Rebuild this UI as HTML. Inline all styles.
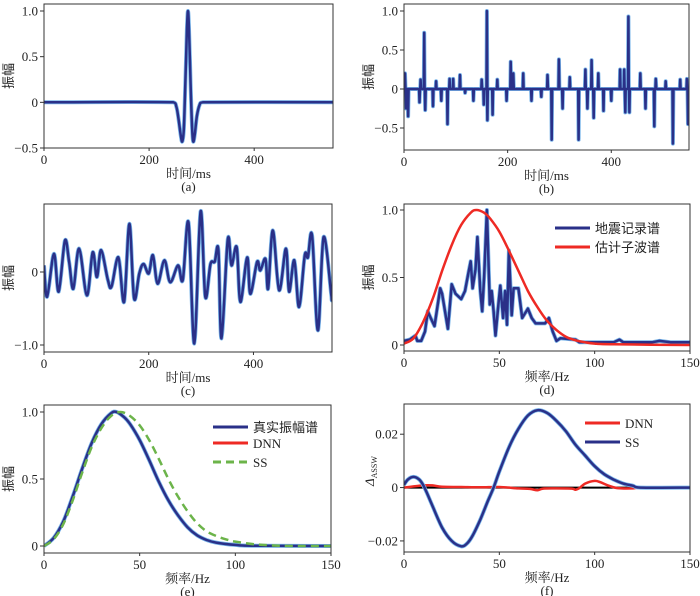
<!DOCTYPE html>
<html><head><meta charset="utf-8"><style>
html,body{margin:0;padding:0;background:#fff;}
svg{display:block;}
.num{font-family:"Liberation Serif",serif;font-size:13px;fill:#222;}
.xl{font-family:"Liberation Serif","Noto Serif CJK SC",serif;font-size:13px;fill:#222;}
.yl{font-family:"Noto Sans CJK SC",sans-serif;font-size:13px;fill:#222;}
.leg{font-family:"Liberation Serif","Noto Sans CJK SC",serif;font-size:13px;fill:#222;}
</style></head><body>
<svg id="fig" xmlns="http://www.w3.org/2000/svg" width="700" height="596" viewBox="0 0 700 596"></svg>
<script>
// (a) wavelet
const aT=[0,246,252,256,260,263,266,269,272,274,276,279,282,284,287,291,296,302,550];
const aV=[0,0,-0.05,-0.18,-0.35,-0.43,-0.3,0.2,0.8,1.0,0.8,0.2,-0.3,-0.43,-0.35,-0.15,-0.03,0,0];
// (b) reflectivity spikes
const bT=[2,4,8,30,32,39,41,56,62,72,84,88,95,108,118,134,150,154,160,161,171,180,198,206,211,230,246,265,277,285,299,306,320,337,350,354,362,366,375,385,400,417,425,427,433,435,456,466,483,486,505,519,533,546,548];
const bV=[0.2,-0.25,-0.35,-0.17,0.12,0.72,-0.27,-0.22,0.1,-0.15,-0.45,0.13,0.13,0.18,-0.05,-0.15,0.12,-0.2,1.0,-0.4,-0.33,0.12,-0.15,0.35,0.2,0.2,-0.15,-0.1,0.18,-0.65,0.38,-0.25,0.15,-0.65,0.25,-0.25,0.37,-0.37,0.2,-0.28,-0.15,0.25,0.25,-0.3,0.93,-0.3,0.2,-0.25,-0.48,0.13,0.1,-0.7,0.12,0.13,-0.45];
// (c) seismic trace
const cT=[0,6,19,28,40,48,56,67,82,93,101,109,122,129,142,153,163,172,182,190,200,208,217,230,241,256,265,276,287,299,308,318,326,333,339,351,358,368,375,388,394,407,413,423,428,437,449,462,468,478,487,498,504,512,523,534,549,550];
const cV=[0.09,-0.34,0.25,-0.27,0.43,0.14,-0.23,0.32,-0.32,0.27,-0.07,0.3,-0.11,-0.2,0.2,-0.41,0.66,-0.36,-0.02,0.11,-0.02,0.23,-0.16,0.16,-0.14,0.09,-0.11,0.68,-0.98,0.83,-0.34,0.11,0.14,0.3,-0.91,0.45,0.09,0.34,-0.41,0.2,-0.3,0.14,0.02,0.18,-0.23,0.57,-0.25,0.32,-0.27,0.16,-0.48,0.23,0.2,0.5,-0.8,0.48,-0.34,-0.3];
// (d) spectra
const dRecF=[0,3,6,7,9,11,12.5,14,16,19,20,23,25,27,30,32,34,35,36,37.5,38.5,40,41,42,43.5,45,46,47,48,49.5,50.5,52,53,54,55,56.5,57.5,60,62,65,67,69,74,76,78,80,82,90,92,100,110,113,115,130,134,140,150];
const dRecV=[0.03,0.04,0.07,0.03,0.03,0.1,0.25,0.2,0.14,0.42,0.38,0.12,0.45,0.38,0.34,0.4,0.55,0.62,0.42,0.56,0.8,0.4,0.25,0.5,1.0,0.3,0.4,0.25,0.07,0.3,0.44,0.2,0.4,0.15,0.7,0.22,0.42,0.42,0.2,0.27,0.2,0.16,0.16,0.2,0.1,0.03,0.05,0.04,0.02,0.02,0.02,0.04,0.02,0.02,0.03,0.02,0.02];
const dEstF=[0,5,10,15,20,25,30,35,38,42,45,50,55,60,65,70,75,80,85,90,95,100,110,150];
const dEstV=[0.01,0.05,0.17,0.34,0.55,0.74,0.89,0.98,1.0,0.98,0.94,0.84,0.70,0.55,0.40,0.28,0.18,0.11,0.06,0.035,0.02,0.01,0.005,0];
// (e) amplitude spectra
const eF=[0,5,10,15,20,25,30,35,38,42,45,50,55,60,65,70,75,80,85,90,100,110,150];
const eTrue=[0,0.06,0.18,0.37,0.58,0.77,0.91,0.99,1.0,0.96,0.91,0.79,0.64,0.48,0.34,0.23,0.14,0.08,0.045,0.025,0.008,0.002,0];
const eDnn=[0,0.06,0.18,0.37,0.58,0.77,0.91,0.99,1.0,0.96,0.91,0.79,0.64,0.48,0.34,0.23,0.14,0.08,0.047,0.028,0.012,0.003,0];
const eSsF=[0,5,10,15,20,25,30,35,40,45,50,55,60,65,70,75,80,85,90,95,100,110,120,130,150];
const eSs=[0,0.05,0.16,0.34,0.55,0.74,0.88,0.97,1.0,0.97,0.9,0.79,0.65,0.5,0.37,0.26,0.17,0.11,0.075,0.05,0.033,0.013,0.004,0,0];
// (f) errors
const fSsF=[0,2,5,8,10,12,15,20,25,30,33,36,40,44,47,50,55,60,65,70,75,80,85,90,95,100,105,110,115,120,124,150];
const fSs=[0.001,0.003,0.004,0.003,0.001,-0.002,-0.007,-0.015,-0.02,-0.022,-0.021,-0.018,-0.012,-0.005,0,0.006,0.015,0.022,0.027,0.029,0.028,0.025,0.021,0.016,0.012,0.008,0.005,0.003,0.0015,0.0007,0,0];
const fDnnF=[0,10,15,20,30,40,50,60,66,70,73,80,88,90,92,95,100,103,107,112,120,125,150];
const fDnn=[0,0.0008,0.0008,0.0003,0.0002,0.0001,0.0002,-0.0003,-0.0005,-0.001,-0.0004,-0.0003,-0.0004,-0.0008,-0.0002,0.0015,0.0025,0.002,0.0008,-0.0002,-0.0003,0,0];

const NS='http://www.w3.org/2000/svg';
const svg=document.getElementById('fig');
function el(tag,attrs,parent){const e=document.createElementNS(NS,tag);for(const k in attrs)e.setAttribute(k,attrs[k]);(parent||svg).appendChild(e);return e;}
const NAVY='#2a3088', HALO='#7ab6ea', RED='#ee2a24', GREEN='#6cb44a';

function panel(id,box,xd,yd,xt,yt,xlabel,caption,ylab){
  const g=el('g',{});
  
  
  const sx=v=>box.x0+(v-xd[0])/(xd[1]-xd[0])*(box.x1-box.x0);
  const sy=v=>box.y1-(v-yd[0])/(yd[1]-yd[0])*(box.y1-box.y0);
  const cp=el('clipPath',{id:'clip'+id},g);
  el('rect',{x:box.x0,y:box.y0,width:box.x1-box.x0,height:box.y1-box.y0},cp);
  const plot=el('g',{'clip-path':'url(#clip'+id+')'},g);
  const fr=el('rect',{x:box.x0,y:box.y0,width:box.x1-box.x0,height:box.y1-box.y0,fill:'none',stroke:'#333','stroke-width':1},g);
  
  
  xt.vals.forEach((v,i)=>{
    const x=sx(v);
    el('line',{x1:x,x2:x,y1:box.y1,y2:box.y1+3,stroke:'#333'},g);
    const t=el('text',{x:x,y:box.y1+16,'text-anchor':'middle',class:'num'},g);
    t.textContent=xt.labels[i];
    
    
  });
  yt.vals.forEach((v,i)=>{
    const y=sy(v);
    el('line',{x1:box.x0-4,x2:box.x0,y1:y,y2:y,stroke:'#333'},g);
    const t=el('text',{x:box.x0-6,y:y+4.5,'text-anchor':'end',class:'num'},g);
    t.textContent=yt.labels[i];
    
    
  });
  const xl=el('text',{x:(box.x0+box.x1)/2,y:box.y1+30,'text-anchor':'middle',class:'xl'},g);
  xl.textContent=xlabel;
  
  
  const cap=el('text',{x:(box.x0+box.x1)/2,y:box.y1+43,'text-anchor':'middle',class:'num'},g);
  cap.textContent=caption;
  
  
  const yc=(box.y0+box.y1)/2;
  if(ylab==='delta'){
    const yl=el('text',{x:0,y:0,transform:'translate('+(box.x0-30)+','+(yc+8)+') rotate(-90)',class:'num','font-style':'italic'},g);
    yl.innerHTML='Δ<tspan font-size="8" dy="3" font-style="normal">ASSW</tspan>';
    
    
  } else {
    const yl=el('text',{x:0,y:0,transform:'translate('+(box.x0-31)+','+yc+') rotate(-90)','text-anchor':'middle',class:'yl'},g);
    yl.textContent='振幅';
    
    
  }
  return {sx,sy,plot,g};
}
function pathD(P,xs,ys,smooth){
  const pts=xs.map((x,i)=>[P.sx(x),P.sy(ys[i])]);
  if(!smooth) return pts.map((p,i)=>(i?'L':'M')+p[0].toFixed(1)+','+p[1].toFixed(1)).join('');
  let d='M'+pts[0][0].toFixed(1)+','+pts[0][1].toFixed(1);
  for(let i=0;i<pts.length-1;i++){
    const p0=pts[Math.max(0,i-1)],p1=pts[i],p2=pts[i+1],p3=pts[Math.min(pts.length-1,i+2)];
    const c1=[p1[0]+(p2[0]-p0[0])/6,p1[1]+(p2[1]-p0[1])/6];
    const c2=[p2[0]-(p3[0]-p1[0])/6,p2[1]-(p3[1]-p1[1])/6];
    // keep x monotone
    c1[0]=Math.min(Math.max(c1[0],p1[0]),p2[0]);c2[0]=Math.min(Math.max(c2[0],p1[0]),p2[0]);
    d+='C'+c1.map(v=>v.toFixed(1)).join(',')+' '+c2.map(v=>v.toFixed(1)).join(',')+' '+p2[0].toFixed(1)+','+p2[1].toFixed(1);
  }
  return d;
}
function series(P,xs,ys,color,w,name,halo,dash,smooth){
  const d=pathD(P,xs,ys,smooth);
  if(halo){const h=el('path',{d:d,fill:'none',stroke:HALO,'stroke-width':w+1.5,'stroke-linejoin':'round'},P.plot);
    
    }
  const p=el('path',{d:d,fill:'none',stroke:color,'stroke-width':w,'stroke-linejoin':'round','stroke-dasharray':dash||'none'},P.plot);
  
  
}
function legend(x,y,color,label,dash){
  const l=el('line',{x1:x,x2:x+35,y1:y,y2:y,stroke:color,'stroke-width':3,'stroke-dasharray':dash||'none'});
  
  
  const t=el('text',{x:x+40,y:y+5,class:'leg'});
  t.textContent=label;
  
  
}
const tT={vals:[0,200,400],labels:['0','200','400']};
const fT={vals:[0,50,100,150],labels:['0','50','100','150']};

// (a)
const A=panel('a',{x0:44,x1:333,y0:4,y1:148},[0,550],[-0.5,-0.5+(148-4)/137*1.5],tT,{vals:[-0.5,0,0.5,1.0],labels:['−0.5','0','0.5','1.0']},'时间/ms','(a)');
series(A,aT,aV,NAVY,2.5,'wavelet-line',true,null,true);
// (b)
const B=panel('b',{x0:404,x1:689,y0:4,y1:150},[0,550],[-0.5-22/78,1.0+7/78],tT,{vals:[-0.5,0,0.5,1.0],labels:['−0.5','0','0.5','1.0']},'时间/ms','(b)');
{const xs=[0],ys=[0];bT.forEach((t,i)=>{xs.push(t-0.8,t,t+0.8);ys.push(0,bV[i],0);});xs.push(550);ys.push(0);
series(B,xs,ys,NAVY,2.5,'reflectivity-line',true);}
// (c)
const C=panel('c',{x0:44,x1:332,y0:204,y1:352},[0,550],[-1.0-7/73,68/73],tT,{vals:[-1.0,0],labels:['−1.0','0']},'时间/ms','(c)');
series(C,cT,cV,NAVY,2.5,'seismic-trace-line',true,null,true);
// (d)
const D=panel('d',{x0:404,x1:690,y0:204,y1:351},[0,150],[-6/135,1+6/135],fT,{vals:[0,0.5,1.0],labels:['0','0.5','1.0']},'频率/Hz','(d)');
series(D,dRecF,dRecV,NAVY,2.5,'record-spectrum-line',true);
series(D,dEstF,dEstV,RED,2.5,'estimated-wavelet-spectrum-line',false,null,true);
legend(555,228,NAVY,'地震记录谱');legend(555,247,RED,'估计子波谱');
// (e)
const E=panel('e',{x0:44,x1:331,y0:405,y1:553},[0,150],[-7/134,1+7/134],fT,{vals:[0,0.5,1.0],labels:['0','0.5','1.0']},'频率/Hz','(e)');
series(E,eF,eDnn,RED,2.5,'dnn-line',false,null,true);
series(E,eF,eTrue,NAVY,2.5,'true-spectrum-line',true,null,true);
series(E,eSsF,eSs,GREEN,2.5,'ss-line',false,'8,5',true);
legend(213,427,NAVY,'真实振幅谱');legend(213,443,RED,'DNN');legend(213,462,GREEN,'SS','8,5');
// (f)
const F=panel('f',{x0:404,x1:690,y0:404,y1:552},[0,150],[-0.02-11/53*0.02,0.02+30/53*0.02],fT,{vals:[-0.02,0,0.02],labels:['−0.02','0','0.02']},'频率/Hz','(f)','delta');
series(F,[0,150],[0,0],'#000',2,'zero-line');
series(F,fDnnF,fDnn,RED,2.5,'dnn-error-line',false,null,true);
series(F,fSsF,fSs,NAVY,2.5,'ss-error-line',true,null,true);
legend(585,423,RED,'DNN');legend(585,442,NAVY,'SS');
</script>
</body></html>
